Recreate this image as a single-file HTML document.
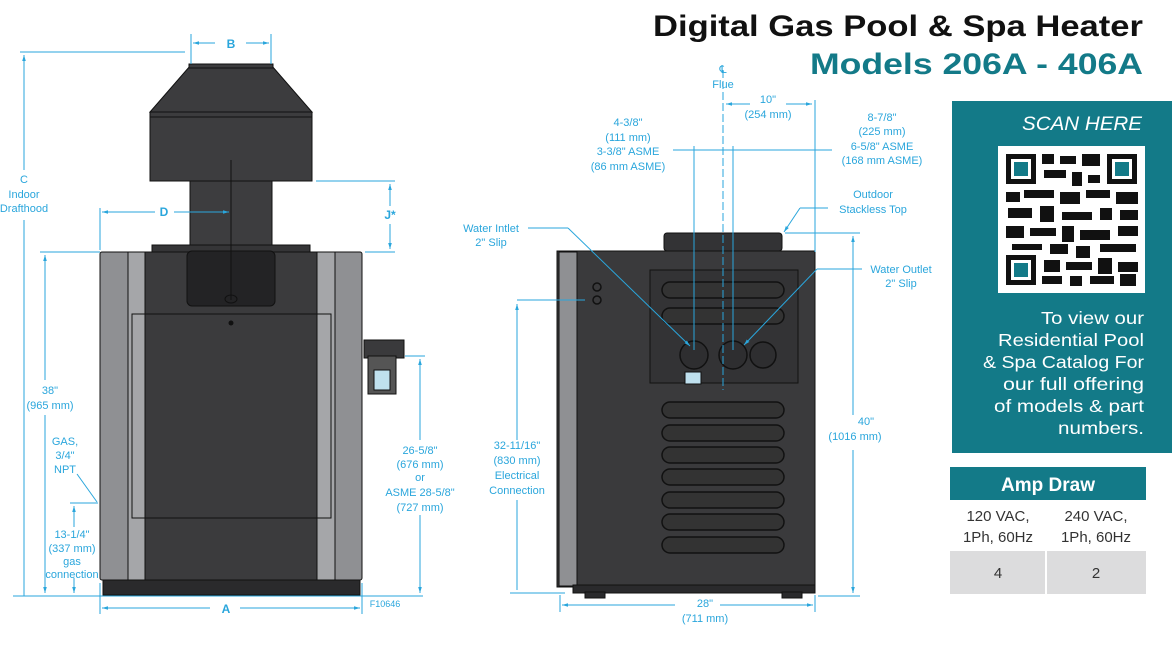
<!DOCTYPE html>
<html><head><meta charset="utf-8"><style>
html,body{margin:0;padding:0;background:#fff;width:1174px;height:645px;overflow:hidden;font-family:"Liberation Sans",sans-serif}
</style></head><body>
<svg width="1174" height="645" viewBox="0 0 1174 645" xmlns="http://www.w3.org/2000/svg">
<defs>
<marker id="a" viewBox="0 0 10 10" refX="10" refY="5" markerWidth="6" markerHeight="6" orient="auto-start-reverse"><path d="M0,2 L10,5 L0,8z" fill="#2aa6dc"/></marker>
</defs>
<!-- LEFT HEATER -->
<g stroke="#111" stroke-width="1">
<polygon points="190,66 272,66 312,112 150,112" fill="#3c3c3e"/>
<rect x="189" y="64" width="84" height="4" fill="#3c3c3e"/>
<rect x="150" y="112" width="162" height="5" fill="#3c3c3e"/>
<rect x="150" y="117" width="162" height="64" fill="#3d3d3f"/>
<rect x="190" y="181" width="82" height="65" fill="#3d3d3f"/>
<rect x="152" y="245" width="158" height="8" fill="#353537"/>
<rect x="100" y="252" width="262" height="328" fill="#8f9093" rx="2"/>
<rect x="128" y="252" width="17" height="328" fill="#a5a6a9"/>
<rect x="317" y="252" width="18" height="328" fill="#a5a6a9"/>
<rect x="145" y="252" width="172" height="328" fill="#3b3b3d"/>
<rect x="132" y="314" width="199" height="204" fill="#3b3b3d"/>
<rect x="132" y="314" width="13" height="204" fill="#a5a6a9"/>
<rect x="317" y="314" width="14" height="204" fill="#a5a6a9"/>
<rect x="145" y="314" width="172" height="204" fill="#3b3b3d"/>
<rect x="187" y="251" width="88" height="55" rx="5" fill="#232325"/>
<rect x="103" y="580" width="257" height="15" fill="#2a2a2c"/>
<rect x="364" y="340" width="40" height="18" fill="#3a3a3c"/>
<rect x="368" y="356" width="28" height="38" fill="#555" />
<rect x="374" y="370" width="16" height="20" fill="#bfe0ee"/>
</g>
<line x1="231" y1="160" x2="231" y2="300" stroke="#111"/>
<ellipse cx="231" cy="299" rx="6" ry="4" fill="none" stroke="#111"/>
<circle cx="231" cy="323" r="2.5" fill="#111"/>
<!-- left dims -->
<g stroke="#2aa6dc" stroke-width="1" fill="none">
<line x1="20" y1="52" x2="185" y2="52"/>
<line x1="24" y1="55" x2="24" y2="170" marker-start="url(#a)"/>
<line x1="24" y1="220" x2="24" y2="596"/>
<line x1="40" y1="252" x2="100" y2="252"/>
<line x1="45" y1="255" x2="45" y2="380" marker-start="url(#a)"/>
<line x1="45" y1="415" x2="45" y2="593" marker-end="url(#a)"/>
<line x1="13" y1="596" x2="423" y2="596"/>
<line x1="191" y1="34" x2="191" y2="64"/><line x1="271" y1="34" x2="271" y2="64"/>
<line x1="193" y1="43" x2="215" y2="43" marker-start="url(#a)"/><line x1="246" y1="43" x2="269" y2="43" marker-end="url(#a)"/>
<line x1="100" y1="208" x2="100" y2="250"/>
<line x1="102" y1="212" x2="155" y2="212" marker-start="url(#a)"/><line x1="174" y1="212" x2="229" y2="212" marker-end="url(#a)"/>
<line x1="316" y1="181" x2="395" y2="181"/><line x1="365" y1="252" x2="395" y2="252"/>
<line x1="390" y1="184" x2="390" y2="206" marker-start="url(#a)"/><line x1="390" y1="224" x2="390" y2="249" marker-end="url(#a)"/>
<line x1="405" y1="356" x2="425" y2="356"/>
<line x1="420" y1="359" x2="420" y2="440" marker-start="url(#a)"/><line x1="420" y1="515" x2="420" y2="593" marker-end="url(#a)"/>
<line x1="70" y1="503" x2="98" y2="503"/>
<line x1="74" y1="506" x2="74" y2="527" marker-start="url(#a)"/><line x1="74" y1="578" x2="74" y2="593" marker-end="url(#a)"/>
<line x1="77" y1="474" x2="97" y2="502"/>
<line x1="100" y1="583" x2="100" y2="614"/><line x1="362" y1="583" x2="362" y2="614"/>
<line x1="102" y1="608" x2="210" y2="608" marker-start="url(#a)"/><line x1="240" y1="608" x2="360" y2="608" marker-end="url(#a)"/>
</g>
<g fill="#2aa6dc" font-size="11" text-anchor="middle">
<text x="231" y="48" font-weight="bold" font-size="12">B</text>
<text x="164" y="216" font-weight="bold" font-size="12">D</text>
<text x="390" y="219" font-weight="bold" font-size="12">J*</text>
<text x="226" y="613" font-weight="bold" font-size="12">A</text>
<text x="24" y="183">C</text><text x="24" y="198">Indoor</text><text x="24" y="212">Drafthood</text>
<text x="50" y="394">38"</text><text x="50" y="409">(965 mm)</text>
<text x="65" y="445">GAS,</text><text x="65" y="459">3/4"</text><text x="65" y="473">NPT</text>
<text x="72" y="538">13-1/4"</text><text x="72" y="552">(337 mm)</text><text x="72" y="565">gas</text><text x="72" y="578">connection</text>
<text x="420" y="454">26-5/8"</text><text x="420" y="468">(676 mm)</text><text x="420" y="481">or</text><text x="420" y="496">ASME 28-5/8"</text><text x="420" y="511">(727 mm)</text>
<text x="385" y="607" font-size="9">F10646</text>
</g>
<!-- RIGHT HEATER -->
<g stroke="#111" stroke-width="1">
<rect x="664" y="233" width="118" height="18" rx="3" fill="#333335"/>
<rect x="557" y="251" width="258" height="336" fill="#3a3a3c"/>
<rect x="559" y="252" width="18" height="334" fill="#8f9093"/>
<rect x="650" y="270" width="148" height="113" fill="#333335"/>
<rect x="573" y="585" width="242" height="8" fill="#2a2a2c"/>
<rect x="585" y="592" width="20" height="6" fill="#2a2a2c"/><rect x="782" y="592" width="20" height="6" fill="#2a2a2c"/>
</g>
<g fill="#333" stroke="#111" stroke-width="1.5">
<rect x="662" y="282" width="122" height="16" rx="8"/><rect x="662" y="308" width="122" height="16" rx="8"/>
<rect x="662" y="402" width="122" height="16" rx="8"/><rect x="662" y="425" width="122" height="16" rx="8"/>
<rect x="662" y="447" width="122" height="16" rx="8"/><rect x="662" y="469" width="122" height="16" rx="8"/>
<rect x="662" y="492" width="122" height="16" rx="8"/><rect x="662" y="514" width="122" height="16" rx="8"/>
<rect x="662" y="537" width="122" height="16" rx="8"/>
<circle cx="694" cy="355" r="14" fill="#2e2e30"/><circle cx="733" cy="355" r="14" fill="#2e2e30"/><circle cx="763" cy="355" r="13" fill="#2e2e30"/>
<circle cx="597" cy="287" r="4" fill="none"/><circle cx="597" cy="300" r="4" fill="none"/>
</g>
<rect x="685" y="372" width="16" height="12" fill="#bfe0ee" stroke="#111"/>
<!-- right dims -->
<g stroke="#2aa6dc" stroke-width="1" fill="none">
<line x1="723" y1="70" x2="723" y2="390" stroke-dasharray="8,3"/>
<line x1="815" y1="100" x2="815" y2="252"/>
<line x1="726" y1="104" x2="750" y2="104" marker-start="url(#a)"/><line x1="786" y1="104" x2="812" y2="104" marker-end="url(#a)"/>
<line x1="673" y1="150" x2="832" y2="150"/>
<line x1="694" y1="146" x2="694" y2="350"/><line x1="733" y1="146" x2="733" y2="350"/>
<line x1="528" y1="228" x2="568" y2="228"/><line x1="568" y1="228" x2="690" y2="346" marker-end="url(#a)"/>
<line x1="828" y1="208" x2="800" y2="208"/><line x1="800" y1="208" x2="784" y2="232" marker-end="url(#a)"/>
<line x1="785" y1="233" x2="860" y2="233"/>
<line x1="853" y1="236" x2="853" y2="415" marker-start="url(#a)"/><line x1="853" y1="450" x2="853" y2="593" marker-end="url(#a)"/>
<line x1="818" y1="596" x2="860" y2="596"/>
<line x1="862" y1="269" x2="817" y2="269"/><line x1="817" y1="269" x2="744" y2="345" marker-end="url(#a)"/>
<line x1="517" y1="304" x2="517" y2="440" marker-start="url(#a)"/><line x1="517" y1="500" x2="517" y2="590"/>
<line x1="517" y1="300" x2="585" y2="300"/><line x1="510" y1="593" x2="565" y2="593"/>
<line x1="560" y1="595" x2="560" y2="612"/><line x1="815" y1="595" x2="815" y2="612"/>
<line x1="562" y1="605" x2="675" y2="605" marker-start="url(#a)"/><line x1="720" y1="605" x2="813" y2="605" marker-end="url(#a)"/>
</g>
<g fill="#2aa6dc" font-size="11" text-anchor="middle">
<text x="723" y="73">℄</text><text x="723" y="88">Flue</text>
<text x="768" y="103">10"</text><text x="768" y="118">(254 mm)</text>
<text x="628" y="126">4-3/8"</text><text x="628" y="141">(111 mm)</text><text x="628" y="155">3-3/8" ASME</text><text x="628" y="170">(86 mm ASME)</text>
<text x="882" y="121">8-7/8"</text><text x="882" y="135">(225 mm)</text><text x="882" y="150">6-5/8" ASME</text><text x="882" y="164">(168 mm ASME)</text>
<text x="873" y="198">Outdoor</text><text x="873" y="213">Stackless Top</text>
<text x="491" y="232">Water Intlet</text><text x="491" y="246">2" Slip</text>
<text x="901" y="273">Water Outlet</text><text x="901" y="287">2" Slip</text>
<text x="866" y="425">40"</text><text x="855" y="440">(1016 mm)</text>
<text x="517" y="449">32-11/16"</text><text x="517" y="464">(830 mm)</text><text x="517" y="479">Electrical</text><text x="517" y="494">Connection</text>
<text x="705" y="607">28"</text><text x="705" y="622">(711 mm)</text>
</g>
<!-- TITLE -->
<text x="653" y="36" textLength="490" lengthAdjust="spacingAndGlyphs" font-family="Liberation Sans" font-weight="bold" font-size="30" fill="#111">Digital Gas Pool &amp; Spa Heater</text>
<text x="810" y="74" textLength="333" lengthAdjust="spacingAndGlyphs" font-family="Liberation Sans" font-weight="bold" font-size="30" fill="#137a88">Models 206A - 406A</text>
<!-- SCAN PANEL -->
<rect x="952" y="101" width="220" height="352" fill="#137a88"/>
<text x="1022" y="130" textLength="120" lengthAdjust="spacingAndGlyphs" font-style="italic" font-size="19" fill="#fff">SCAN HERE</text>
<rect x="998" y="146" width="147" height="147" fill="#fff"/>
<g fill="#111">
<rect x="1006" y="154" width="30" height="30"/><rect x="1011" y="159" width="20" height="20" fill="#fff"/><rect x="1014" y="162" width="14" height="14" fill="#137a88"/>
<rect x="1107" y="154" width="30" height="30"/><rect x="1112" y="159" width="20" height="20" fill="#fff"/><rect x="1115" y="162" width="14" height="14" fill="#137a88"/>
<rect x="1006" y="255" width="30" height="30"/><rect x="1011" y="260" width="20" height="20" fill="#fff"/><rect x="1014" y="263" width="14" height="14" fill="#137a88"/>
<rect x="1042" y="154" width="12" height="10"/><rect x="1060" y="156" width="16" height="8"/><rect x="1082" y="154" width="18" height="12"/>
<rect x="1044" y="170" width="22" height="8"/><rect x="1072" y="172" width="10" height="14"/><rect x="1088" y="175" width="12" height="8"/>
<rect x="1006" y="192" width="14" height="10"/><rect x="1024" y="190" width="30" height="8"/><rect x="1060" y="192" width="20" height="12"/><rect x="1086" y="190" width="24" height="8"/><rect x="1116" y="192" width="22" height="12"/>
<rect x="1008" y="208" width="24" height="10"/><rect x="1040" y="206" width="14" height="16"/><rect x="1062" y="212" width="30" height="8"/><rect x="1100" y="208" width="12" height="12"/><rect x="1120" y="210" width="18" height="10"/>
<rect x="1006" y="226" width="18" height="12"/><rect x="1030" y="228" width="26" height="8"/><rect x="1062" y="226" width="12" height="16"/><rect x="1080" y="230" width="30" height="10"/><rect x="1118" y="226" width="20" height="10"/>
<rect x="1012" y="244" width="30" height="6"/><rect x="1050" y="244" width="18" height="10"/><rect x="1076" y="246" width="14" height="12"/><rect x="1100" y="244" width="36" height="8"/>
<rect x="1044" y="260" width="16" height="12"/><rect x="1066" y="262" width="26" height="8"/><rect x="1098" y="258" width="14" height="16"/><rect x="1118" y="262" width="20" height="10"/>
<rect x="1042" y="276" width="20" height="8"/><rect x="1070" y="276" width="12" height="10"/><rect x="1090" y="276" width="24" height="8"/><rect x="1120" y="274" width="16" height="12"/>
</g>
<g fill="#fff" font-size="17.5">
<text x="1041" y="324" textLength="103" lengthAdjust="spacingAndGlyphs">To view our</text>
<text x="998" y="346" textLength="146" lengthAdjust="spacingAndGlyphs">Residential Pool</text>
<text x="983" y="368" textLength="161" lengthAdjust="spacingAndGlyphs">&amp; Spa Catalog For</text>
<text x="1003" y="390" textLength="141" lengthAdjust="spacingAndGlyphs">our full offering</text>
<text x="994" y="412" textLength="150" lengthAdjust="spacingAndGlyphs">of models &amp; part</text>
<text x="1058" y="434" textLength="86" lengthAdjust="spacingAndGlyphs">numbers.</text>
</g>
<!-- AMP TABLE -->
<rect x="950" y="467" width="196" height="33" fill="#137a88"/>
<text x="1048" y="491" text-anchor="middle" font-size="19" font-weight="bold" fill="#fff">Amp Draw</text>
<g fill="#333" font-size="15" text-anchor="middle">
<text x="998" y="521">120 VAC,</text><text x="998" y="542">1Ph, 60Hz</text>
<text x="1096" y="521">240 VAC,</text><text x="1096" y="542">1Ph, 60Hz</text>
</g>
<rect x="950" y="551" width="95" height="43" fill="#dcdcdd"/><rect x="1047" y="551" width="99" height="43" fill="#dcdcdd"/>
<text x="998" y="578" text-anchor="middle" font-size="15" fill="#333">4</text>
<text x="1096" y="578" text-anchor="middle" font-size="15" fill="#333">2</text>
</svg>
</body></html>
